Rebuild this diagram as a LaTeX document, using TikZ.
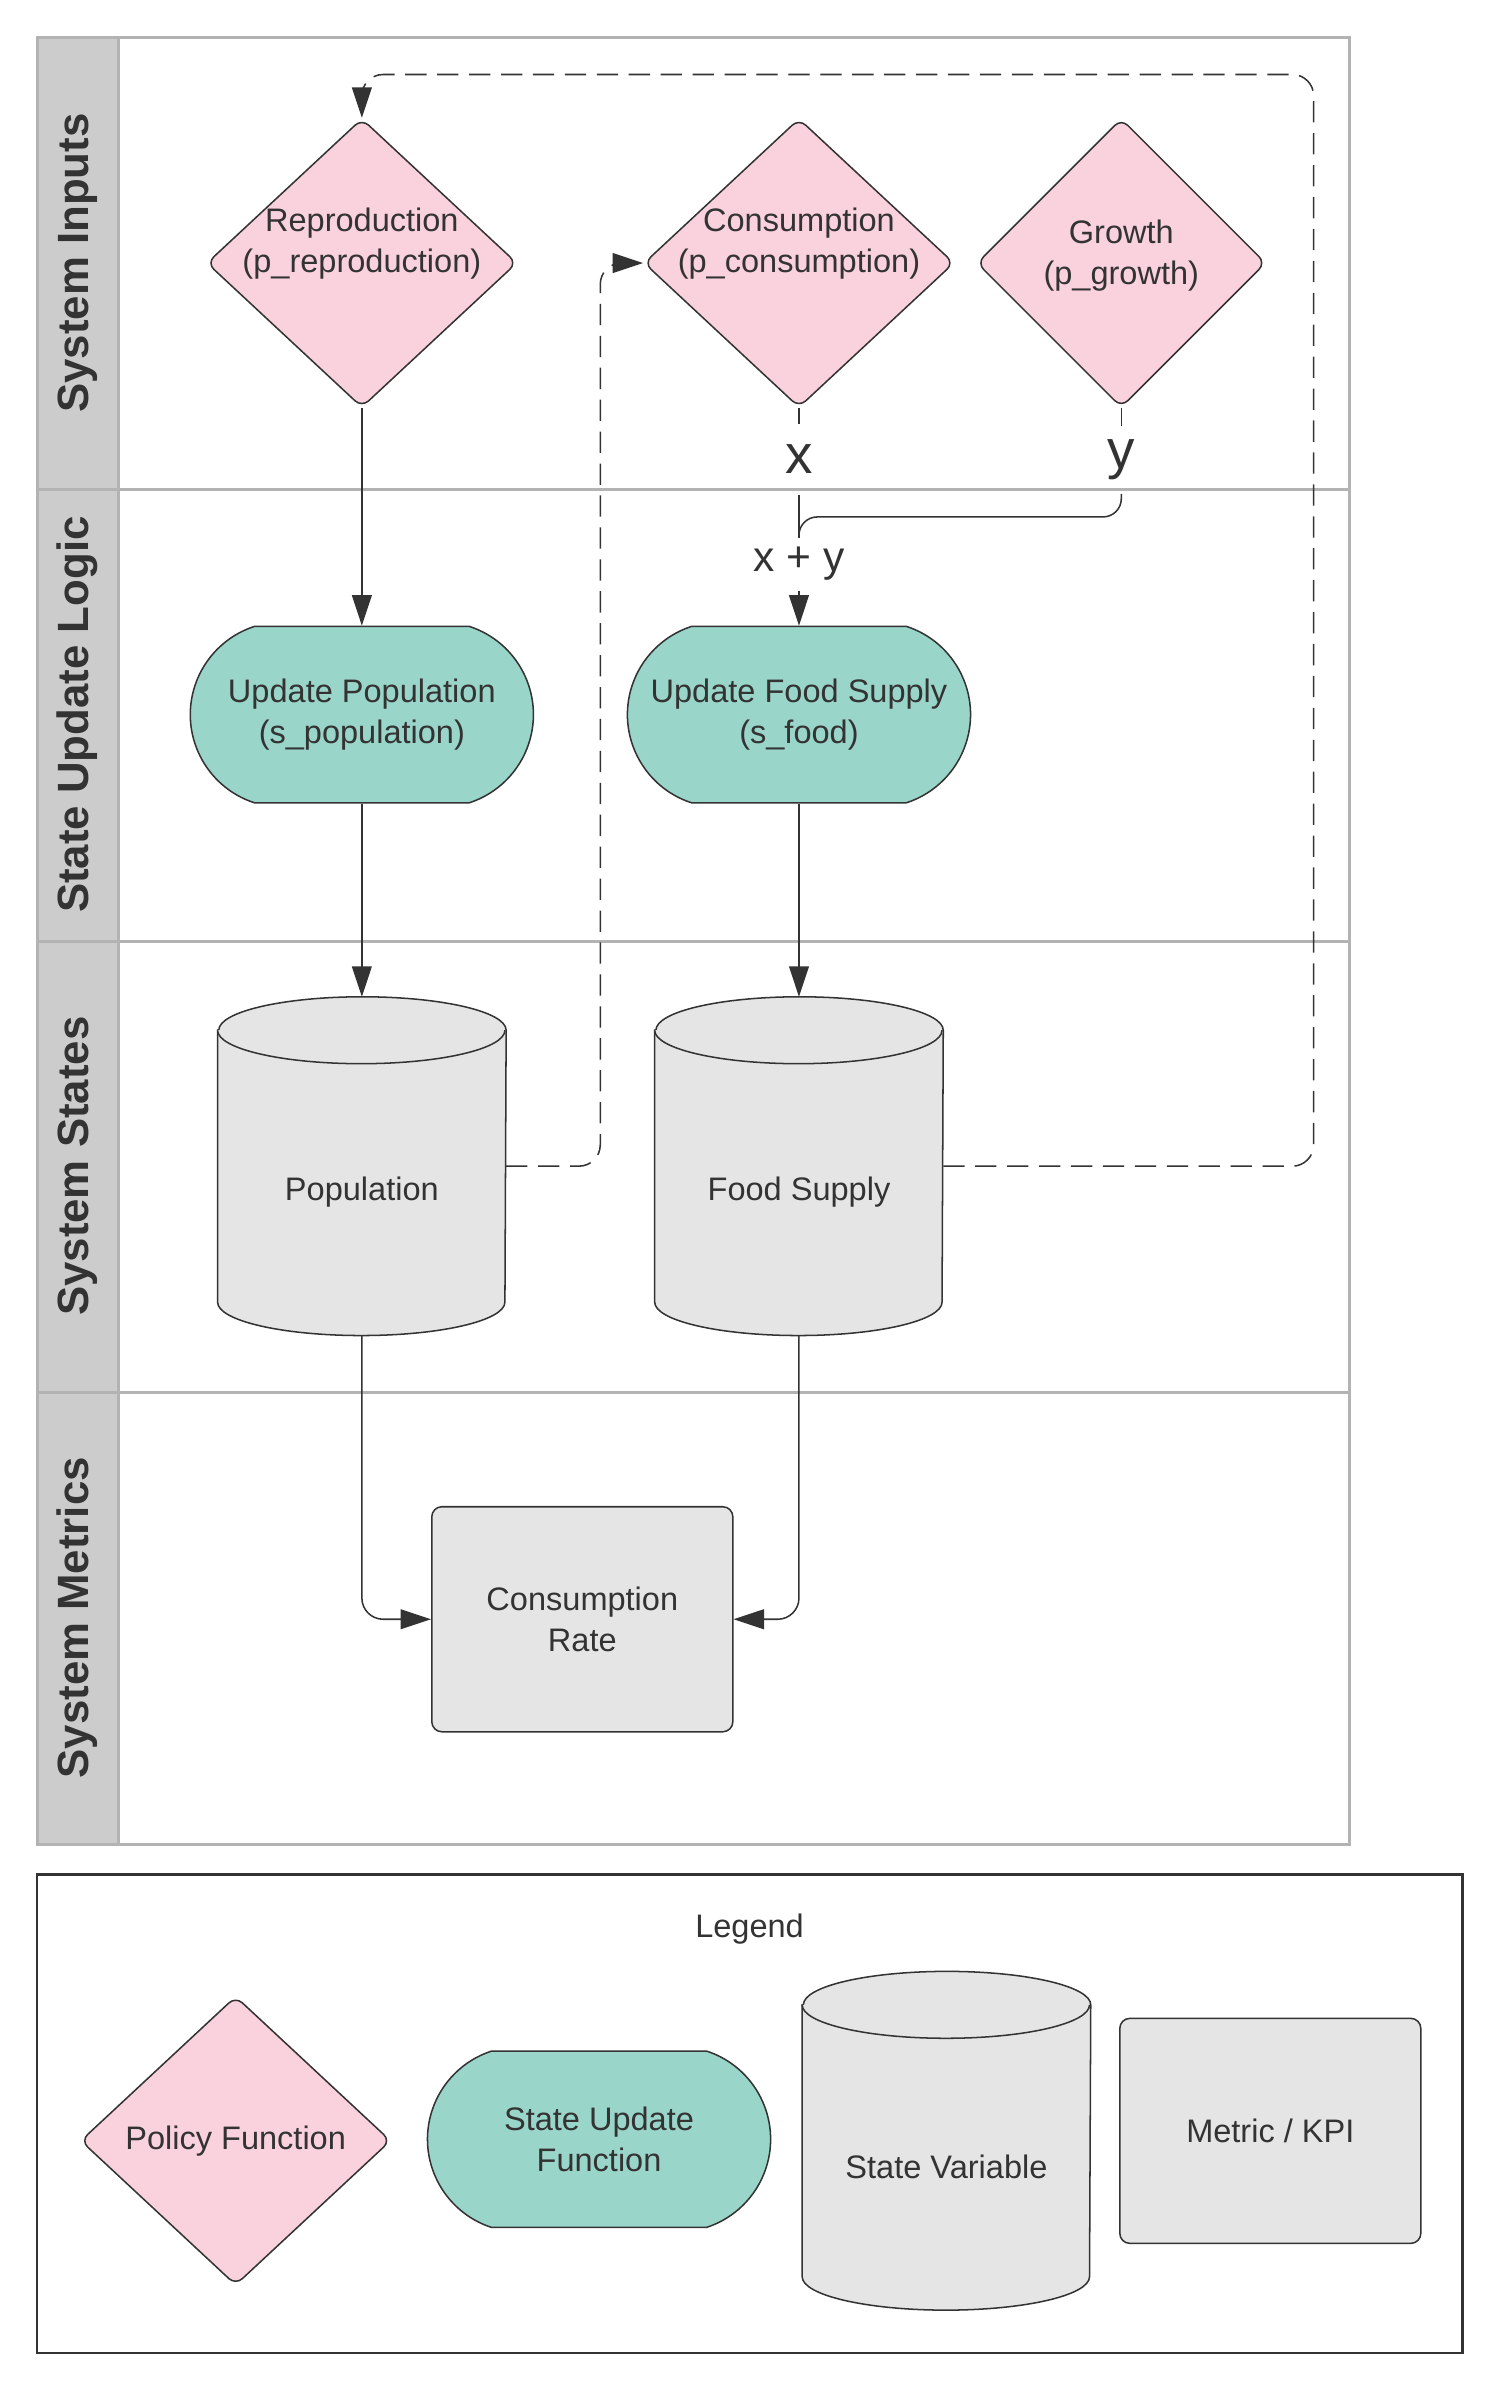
\documentclass[tikz,border=0pt]{standalone}
\usepackage{fontspec}
\setmainfont{Liberation Sans}
\usetikzlibrary{shapes.geometric,shapes.misc,arrows.meta}

\definecolor{policypink}{HTML}{F9D2DE}
\definecolor{updateteal}{HTML}{9AD5CA}
\definecolor{stategray}{HTML}{E5E5E5}
\definecolor{lanegray}{HTML}{CCCCCC}
\definecolor{framegray}{HTML}{B3B3B3}
\definecolor{inkgray}{HTML}{333333}

% state variable drawn as a cylinder round a named box
\newcommand{\statecyl}[3]{%
  \node[statevar] (#1) at (#2) {};
  \filldraw[cylline] ([yshift=-11pt]#1.north west) -- ([yshift=11pt]#1.south west)
    arc[start angle=180,end angle=360,x radius=47.25pt,y radius=11pt]
    -- ([yshift=-11pt]#1.north east)
    arc[start angle=0,end angle=180,x radius=47.25pt,y radius=11pt] -- cycle;
  \draw[cylline] ([yshift=-11pt]#1.north west)
    arc[start angle=180,end angle=360,x radius=47.25pt,y radius=11pt];
  \node (#1text) at ([yshift=-8.5pt]#1.center) {#3};
}

\begin{document}
\begin{tikzpicture}[x=0.5pt,y=-0.5pt,
    every node/.style={text=inkgray,font=\fontsize{10.7pt}{13.5pt}\selectfont},
    policy/.style={diamond,draw=inkgray,fill=policypink,line width=0.5pt,rounded corners=3pt,
      minimum width=102pt,minimum height=95pt,inner sep=0pt},
    update/.style={rounded rectangle,rounded rectangle arc length=144,draw=inkgray,
      fill=updateteal,line width=0.5pt,minimum width=119.5pt,minimum height=58pt,align=center},
    statevar/.style={rectangle,minimum width=94.5pt,minimum height=111pt,inner sep=0pt},
    cylline/.style={draw=inkgray,fill=stategray,line width=0.5pt},
    metric/.style={rectangle,rounded corners=3.3pt,draw=inkgray,fill=stategray,line width=0.5pt,
      minimum width=99pt,minimum height=74pt,align=center},
    lanelabel/.style={rotate=90,font=\fontsize{14.4pt}{17pt}\selectfont\bfseries},
    lane/.style={draw=framegray,line width=1pt},
    flow/.style={draw=inkgray,line width=0.5pt,rounded corners=7pt},
    feedback/.style={flow,dash pattern=on 7pt off 3.5pt},
    flowtip/.style={-{Triangle[length=10pt,width=6.5pt]}},
  ]

  \useasboundingbox[fill=white] (0,0) rectangle (981.6,1568);

  % swimlanes
  \fill[lanegray] (24.5,24.5) rectangle (78,1213);
  \draw[lane] (24.5,322) -- (887.6,322);
  \draw[lane] (24.5,619) -- (887.6,619);
  \draw[lane] (24.5,916) -- (887.6,916);
  \draw[lane] (78,24.5) -- (78,1213);
  \draw[lane] (24.5,24.5) rectangle (887.6,1213);

  \node[lanelabel] (inputs)  at (51,173)  {System Inputs};
  \node[lanelabel] (logic)   at (51,470)  {State Update Logic};
  \node[lanelabel] (states)  at (51,767)  {System States};
  \node[lanelabel] (metrics) at (51,1064) {System Metrics};

  % policies
  \node[policy,label={[align=center,yshift=6.5pt]center:Reproduction\\(p\_reproduction)}]
    (repro) at (238,173) {};
  \node[policy,label={[align=center,yshift=6.5pt]center:Consumption\\(p\_consumption)}]
    (cons) at (525.5,173) {};
  \node[policy,minimum width=95pt,label={[align=center,yshift=2.5pt]center:Growth\\(p\_growth)}]
    (growth) at (737.5,173) {};

  % state updates
  \node[update] (updpop)  at (238,470)   {Update Population\\(s\_population)};
  \node[update] (updfood) at (525.5,470) {Update Food Supply\\(s\_food)};

  % states and metric
  \statecyl{pop}{238,767}{Population}
  \statecyl{food}{525.5,767}{Food Supply}
  \node[metric] (rate) at (383,1065) {Consumption\\Rate};

  % connector labels
  \node[font=\fontsize{18pt}{20pt}\selectfont,minimum height=23pt,inner sep=0pt]
    (xlbl) at (525.5,302) {x};
  \node[font=\fontsize{18pt}{20pt}\selectfont,minimum height=22pt,inner sep=0pt]
    (ylbl) at (737.5,302.5) {y};
  \node[font=\fontsize{14pt}{16pt}\selectfont,minimum height=17pt,inner sep=0pt]
    (xylbl) at (525.5,371) {x + y};
  \coordinate (join) at (525.5,340);

  \draw[flow] (cons.south) -- (xlbl.north);
  \draw[flow] (xlbl.south) -- (xylbl.north);
  \draw[flow] (growth.south) -- (ylbl.north);
  \draw[flow,rounded corners=6pt] (ylbl.south) |- (join) -- (xylbl.north);
  \draw[flow,flowtip] (xylbl.south) -- (updfood.north);

  \draw[flow,flowtip] (repro.south) -- (updpop.north);
  \draw[flow,flowtip] (updpop.south) -- (pop.north);
  \draw[flow,flowtip] (updfood.south) -- (food.north);
  \draw[flow,flowtip] (pop.south) |- (rate.west);
  \draw[flow,flowtip] (food.south) |- (rate.east);

  % feedback
  \coordinate (popfb) at (394.8,767);
  \coordinate (foodfb) at (864,49);
  \draw[feedback,flowtip] (pop.east) -- (popfb) |- (cons.west);
  \draw[feedback,flowtip] (food.east) -| (foodfb) -| (repro.north);

  % legend
  \draw[draw=inkgray,line width=0.8pt] (24.5,1233) rectangle (962,1547.5);
  \node (legend) at (493,1269) {Legend};
  \node[policy,label=center:Policy Function] (legpolicy) at (155,1408) {};
  \node[update] (legupdate) at (394,1407) {State Update\\Function};
  \statecyl{legstate}{622.5,1408}{State Variable}
  \node[metric] (legmetric) at (835.5,1401.5) {Metric / KPI};

\end{tikzpicture}
\end{document}
